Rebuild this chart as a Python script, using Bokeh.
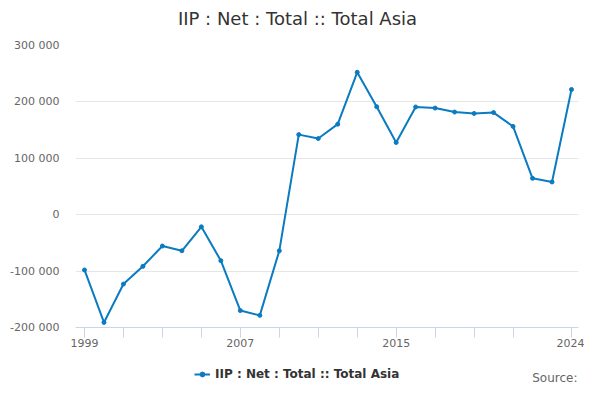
from bokeh.plotting import figure
from bokeh.models import (ColumnDataSource, FixedTicker, Label, Legend, LegendItem, Range1d)
from bokeh.layouts import column
from bokeh.embed import file_html
from bokeh.resources import INLINE

# Werte
years = [1999, 2000, 2001, 2002, 2003, 2004, 2005, 2006, 2007, 2008, 2009, 2010, 2011,
         2012, 2013, 2014, 2015, 2016, 2017, 2018, 2019, 2020, 2021, 2022, 2023, 2024]
values = [-98000, -191000, -123000, -91500, -55500, -64000, -21500, -81500, -170000, -178500,
          -64000, 142000, 135000, 160500, 252500, 191500, 128000, 191000, 189000, 182000,
          179500, 181000, 156500, 64500, 58000, 222000]

y_ticks = [-200000, -100000, 0, 100000, 200000, 300000]
y_labels = ["-200 000", "-100 000", "0", "100 000", "200 000", "300 000"]
x_ticks = [1999, 2001, 2003, 2005, 2007, 2009, 2011, 2013, 2015, 2017, 2019, 2021, 2024]
x_labeled = [1999, 2007, 2015, 2024]

title = "IIP : Net : Total :: Total Asia"
series_name = "IIP : Net : Total :: Total Asia"

line_color = "#0a7bc1"
font = "DejaVu Sans"
W = 584
LEFT, RIGHT = 75, 6   # die Spalte richtet die Rahmen aller drei Figuren aneinander aus

# Kopfzeile mit Titel
head = figure(width=W, height=36, output_backend="svg", toolbar_location=None,
              x_axis_type=None, y_axis_type=None, min_border=0,
              min_border_left=LEFT, min_border_right=RIGHT,
              x_range=Range1d(0, 1), y_range=Range1d(0, 1))
head.outline_line_color = None
head.grid.visible = False
head.add_layout(Label(x=297 - LEFT, y=18, x_units="screen", y_units="screen", text=title,
                      text_font=font, text_font_size="18px", text_color="#333333",
                      text_align="center", text_baseline="middle"))

# Hauptdiagramm
source = ColumnDataSource(data=dict(year=years, value=values))

p = figure(width=W, height=318, output_backend="svg", toolbar_location=None,
           x_range=Range1d(1998.538, 2024.36), y_range=Range1d(-200000, 300000),
           min_border_left=LEFT, min_border_right=RIGHT, min_border_top=9, min_border_bottom=27)
p.outline_line_color = None

r_line = p.line("year", "value", source=source, line_color=line_color, line_width=2)
r_pts = p.scatter("year", "value", source=source, size=4, fill_color=line_color,
                  line_color=line_color)

p.xaxis.ticker = FixedTicker(ticks=x_ticks)
p.xaxis.major_label_overrides = {t: (str(t) if t in x_labeled else "") for t in x_ticks}
p.xaxis.axis_line_color = "#ccd6eb"
p.xaxis.major_tick_line_color = "#ccd6eb"
p.xaxis.major_tick_out = 10
p.xaxis.major_tick_in = 0
p.xaxis.minor_tick_line_color = None
p.xaxis.major_label_standoff = 1
p.xaxis.major_label_text_font = font
p.xaxis.major_label_text_font_size = "11px"
p.xaxis.major_label_text_color = "#666666"

p.yaxis.ticker = FixedTicker(ticks=y_ticks)
p.yaxis.major_label_overrides = dict(zip(y_ticks, y_labels))
p.yaxis.axis_line_color = None
p.yaxis.major_tick_line_color = None
p.yaxis.minor_tick_line_color = None
p.yaxis.major_tick_out = 0
p.yaxis.major_label_standoff = 16
p.yaxis.major_label_text_font = font
p.yaxis.major_label_text_font_size = "11px"
p.yaxis.major_label_text_color = "#666666"

p.xgrid.grid_line_color = None
p.ygrid.grid_line_color = "#e6e6e6"

# Fusszeile mit Legende und Quelle
foot = figure(width=W, height=30, output_backend="svg", toolbar_location=None,
              x_axis_type=None, y_axis_type=None, min_border=0,
              min_border_left=LEFT, min_border_right=RIGHT,
              x_range=Range1d(0, 1), y_range=Range1d(0, 1))
foot.outline_line_color = None
foot.grid.visible = False
dummy = ColumnDataSource(data=dict(x=[-10, -11], y=[-10, -11]))
l_line = foot.line("x", "y", source=dummy, line_color=line_color, line_width=2)
l_pts = foot.scatter("x", "y", source=dummy, size=4, fill_color=line_color,
                     line_color=line_color)
legend = Legend(items=[LegendItem(label=series_name, renderers=[l_line, l_pts])],
                orientation="horizontal", location=(194 - LEFT, 3), padding=0, margin=0,
                spacing=0, glyph_width=16, glyph_height=12, label_standoff=5,
                border_line_color=None, background_fill_alpha=0,
                label_text_font=font, label_text_font_style="bold",
                label_text_font_size="12px", label_text_color="#333333")
foot.add_layout(legend, "center")
foot.add_layout(Label(x=W - LEFT - RIGHT - 1, y=7, x_units="screen", y_units="screen",
                      text="Source:", text_font=font, text_font_size="12px",
                      text_color="#666666", text_align="right", text_baseline="middle"))

layout = column(head, p, foot, spacing=0)
open("out.html", "w").write(file_html(layout, INLINE))
